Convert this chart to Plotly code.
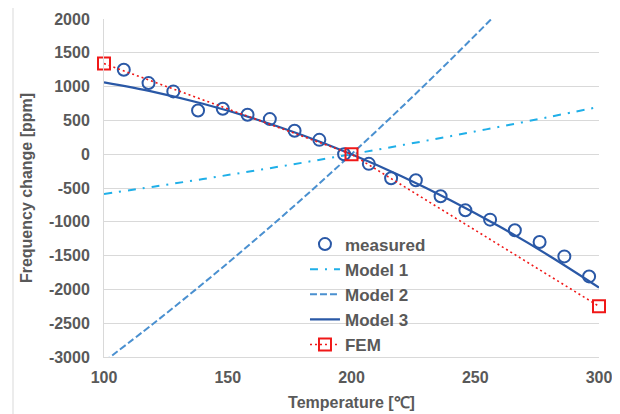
import plotly.graph_objects as go

# Measured data
meas_T = [108, 118, 128, 138, 148, 158, 167, 177, 187, 197,
          207, 216, 226, 236, 246, 256, 266, 276, 286, 296]
meas_f = [1250, 1052, 929, 647, 672, 583, 519, 346, 212, 0,
          -143, -356, -385, -623, -830, -968, -1126, -1299, -1512, -1808]

# Model curves
model_T = [100, 120, 140, 160, 180, 200, 220, 240, 260, 280, 300]
model1_f = [-590, -480, -367, -249, -127, 0, 131, 267, 407, 552, 700]
model2_f = [-3070, -2504, -1914, -1300, -662, 0, 686, 1396, 2130, 2888, 3670]
model3_f = [1062, 923, 746, 534, 285, 0, -321, -680, -1074, -1505, -1972]

# FEM
fem_T = [100, 200, 300]
fem_f = [1340, 0, -2250]

x_ticks = [100, 150, 200, 250, 300]
y_ticks = [-3000, -2500, -2000, -1500, -1000, -500, 0, 500, 1000, 1500, 2000]

FONT = "Liberation Sans, Arial, sans-serif"
GREY = "#595959"

fig = go.Figure()
fig.add_trace(go.Scatter(x=model_T, y=model1_f, mode="lines", name="Model 1",
                         line=dict(color="#1FAFE8", width=2, dash="8px,7px,2px,7px", shape="spline"),
                         legendrank=2))
fig.add_trace(go.Scatter(x=model_T, y=model2_f, mode="lines", name="Model 2",
                         line=dict(color="#4A90D0", width=2, dash="7px,3px", shape="spline"),
                         legendrank=3))
fig.add_trace(go.Scatter(x=model_T, y=model3_f, mode="lines", name="Model 3",
                         line=dict(color="#2A58A6", width=2.2, shape="spline"),
                         legendrank=4))
fig.add_trace(go.Scatter(x=meas_T, y=meas_f, mode="markers", name="measured",
                         marker=dict(symbol="circle-open", size=12, color="#2A58A6",
                                     line=dict(width=2, color="#2A58A6")),
                         legendrank=1))
fig.add_trace(go.Scatter(x=fem_T, y=fem_f, mode="lines+markers", name="FEM",
                         line=dict(color="#F01818", width=1.6, dash="2px,3px"),
                         marker=dict(symbol="square-open", size=12, color="#F01818",
                                     line=dict(width=2, color="#F01818")),
                         legendrank=5, cliponaxis=False))

# chart-area border (page has an 8px body margin; figure is offset by it)
fig.add_shape(type="rect", xref="paper", yref="paper",
              x0=(5 - 96) / 495, x1=(630 - 96) / 495, y0=(349 - 430) / 338, y1=(349 + 0.5) / 338,
              line=dict(color="#d9d9d9", width=1), layer="below")

fig.update_layout(
    width=612, height=406,
    margin=dict(l=96, r=21, t=11, b=57, autoexpand=False),
    paper_bgcolor="white", plot_bgcolor="white",
    font=dict(family=FONT, color=GREY, size=16, weight="bold"),
    showlegend=True,
    legend=dict(x=0.406, y=0.386, xanchor="left", yanchor="top",
                bgcolor="rgba(0,0,0,0)", font=dict(size=17, weight="bold", color=GREY)),
    xaxis=dict(range=[100, 300], tickvals=x_ticks, ticktext=[str(v) for v in x_ticks],
               showgrid=False, showline=True, linecolor="#d9d9d9", linewidth=1,
               zeroline=False, ticks="", ticklabelstandoff=6, automargin=False,
               ticklabeloverflow="allow",
               title=dict(text="Temperature [℃]", font=dict(size=16, weight="bold", color=GREY),
                          standoff=11),
               tickfont=dict(size=16, weight="bold", color=GREY)),
    yaxis=dict(range=[-3000, 2000], tickvals=y_ticks, ticktext=[str(v) for v in y_ticks],
               showgrid=True, gridcolor="#d9d9d9", gridwidth=1,
               showline=True, linecolor="#d9d9d9", linewidth=1,
               zeroline=False, ticks="", ticklabelstandoff=10, automargin=False,
               ticklabeloverflow="allow",
               title=dict(text="Frequency change [ppm]", font=dict(size=16, weight="bold", color=GREY),
                          standoff=12),
               tickfont=dict(size=16, weight="bold", color=GREY)),
)

fig.write_html("out.html")
